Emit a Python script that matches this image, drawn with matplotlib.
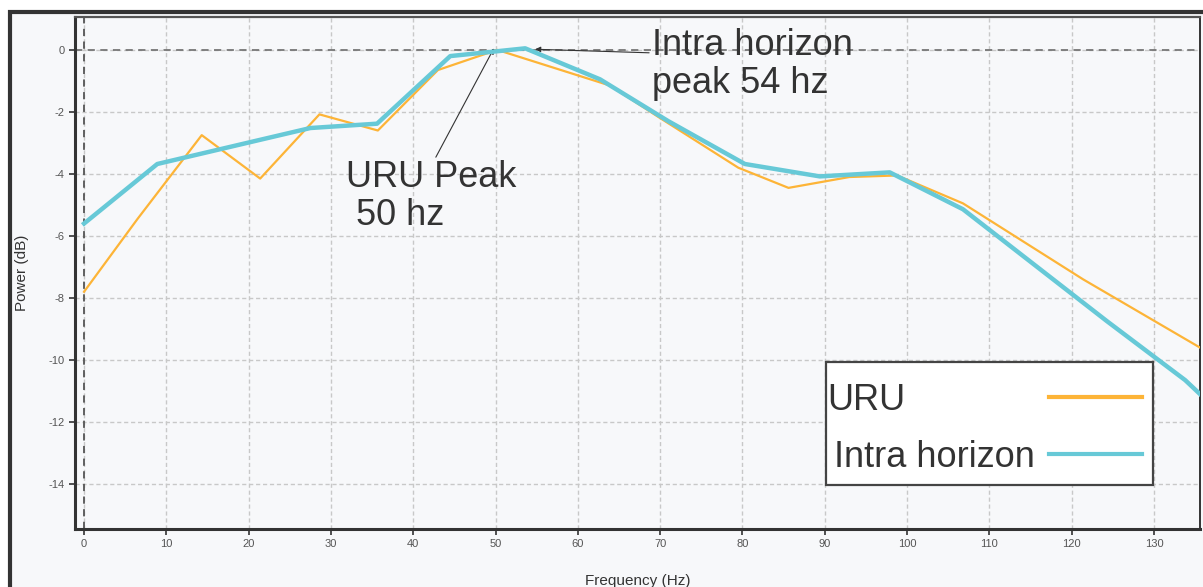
"""Power spectrum comparison: URU vs Intra horizon."""

import matplotlib
matplotlib.use("Agg")
import matplotlib.pyplot as plt
import matplotlib.patches as mpatches
from matplotlib.lines import Line2D

plt.rcParams["font.family"] = ["Liberation Sans", "DejaVu Sans"]
plt.rcParams["axes.unicode_minus"] = False

# URU spectrum (Hz, dB)
uru_freq = [0, 6.5, 14.3, 21.4, 28.6, 35.7, 43.0, 50.2, 63.9, 70.0, 79.5, 85.6, 93.0, 98.8, 106.8, 121.4, 135.6]
uru_power = [-7.8, -5.45, -2.75, -4.15, -2.08, -2.6, -0.65, 0.0, -1.15, -2.2, -3.8, -4.45, -4.1, -4.05, -4.95, -7.4, -9.6]

# Intra horizon spectrum (Hz, dB)
intra_freq = [0, 8.9, 21.4, 27.5, 35.6, 44.5, 50.0, 53.6, 62.7, 71.0, 80.3, 89.4, 97.9, 106.8, 124.3, 133.8, 135.6]
intra_power = [-5.6, -3.68, -2.9, -2.52, -2.38, -0.2, -0.05, 0.05, -0.95, -2.3, -3.68, -4.08, -3.95, -5.14, -8.75, -10.65, -11.1]

series_names = ["URU", "Intra horizon"]
x_ticks = list(range(0, 131, 10))
y_ticks = list(range(-14, 1, 2))

URU_COLOR = "#fdb437"
INTRA_COLOR = "#67c9d7"
BG = "#f7f8fa"
TXT = "#333333"


def _legend(ax, entries):
    """Boxed legend with labels on the left and line samples on the right."""
    ax.add_patch(mpatches.Rectangle((0.6676, 0.086), 0.2904, 0.240, transform=ax.transAxes,
                                    facecolor="white", edgecolor="#444444", lw=1.6, zorder=6))
    for (label, color, lw), x_txt, y in zip(entries, (0.669, 0.6745), (0.251, 0.139)):
        ax.text(x_txt, y, label, transform=ax.transAxes, fontsize=26, color=TXT,
                ha="left", va="center", zorder=7)
        ax.add_line(Line2D([0.866, 0.948], [y + 0.007, y + 0.007], transform=ax.transAxes,
                           color=color, lw=lw, zorder=7))


def main():
    fig = plt.figure(figsize=(12.03, 5.87), dpi=100, facecolor="white")
    # outer framed panel (extends past the right/bottom edges)
    frame_rect = mpatches.Rectangle(
        (10 / 1203, -0.05), 1.2, 1 - 12 / 587 + 0.05, transform=fig.transFigure,
        facecolor=BG, edgecolor="#333333", linewidth=3, zorder=-5)
    fig.add_artist(frame_rect)

    ax = fig.add_axes([75 / 1203, 1 - 529 / 587, (1200 - 75) / 1203, (529 - 17) / 587])
    ax.set_zorder(1)
    ax.set_facecolor(BG)

    ax.plot(uru_freq, uru_power, color=URU_COLOR, lw=1.6, zorder=3)
    ax.plot(intra_freq, intra_power, color=INTRA_COLOR, lw=3.2, zorder=4)

    ax.axhline(0, color="#777777", lw=1.3, ls=(0, (4, 3)), zorder=2)
    ax.axvline(0, color="#555555", lw=1.3, ls=(0, (4, 3)), zorder=2)

    ax.set_xlim(-1.1, 135.6)
    ax.set_ylim(-15.45, 1.06)
    ax.set_xticks(x_ticks)
    ax.set_yticks(y_ticks)
    ax.grid(True, color="#c8c8c8", lw=1.0, ls=(0, (3, 2)), zorder=1)
    ax.tick_params(labelsize=8, colors=TXT, length=4, width=1.2)
    for lab in ax.get_xticklabels() + ax.get_yticklabels():
        lab.set_color("#555555")

    for side in ("left", "bottom"):
        ax.spines[side].set_linewidth(2.2)
        ax.spines[side].set_color("#333333")
    ax.spines["right"].set_linewidth(1.4)
    ax.spines["right"].set_color("#333333")
    ax.spines["top"].set_linewidth(1.6)
    ax.spines["top"].set_color("#555555")

    ax.set_ylabel("Power (dB)", fontsize=11, color=TXT, labelpad=14)
    ax.set_xlabel("Frequency (Hz)", fontsize=11, color=TXT, labelpad=18)

    ax.annotate("URU Peak\n 50 hz", xy=(49.8, 0.05), xytext=(31.8, -3.55),
                fontsize=26, color=TXT, va="top", ha="left", linespacing=1.1,
                arrowprops=dict(arrowstyle="-|>", lw=0.8, color="#333333",
                                mutation_scale=8, shrinkA=0, shrinkB=0,
                                relpos=(0.52, 1.0)))
    ax.annotate("Intra horizon\npeak 54 hz", xy=(54.8, 0.02), xytext=(69.0, 0.7),
                fontsize=26, color=TXT, va="top", ha="left", linespacing=1.1,
                arrowprops=dict(arrowstyle="-|>", lw=0.8, color="#333333",
                                mutation_scale=8, shrinkA=0, shrinkB=0,
                                relpos=(0.0, 0.66)))

    _legend(ax, [(series_names[0], URU_COLOR, 3.0), (series_names[1], INTRA_COLOR, 3.0)])

    fig.savefig("out.png", dpi=100, facecolor=fig.get_facecolor())


if __name__ == "__main__":
    main()
